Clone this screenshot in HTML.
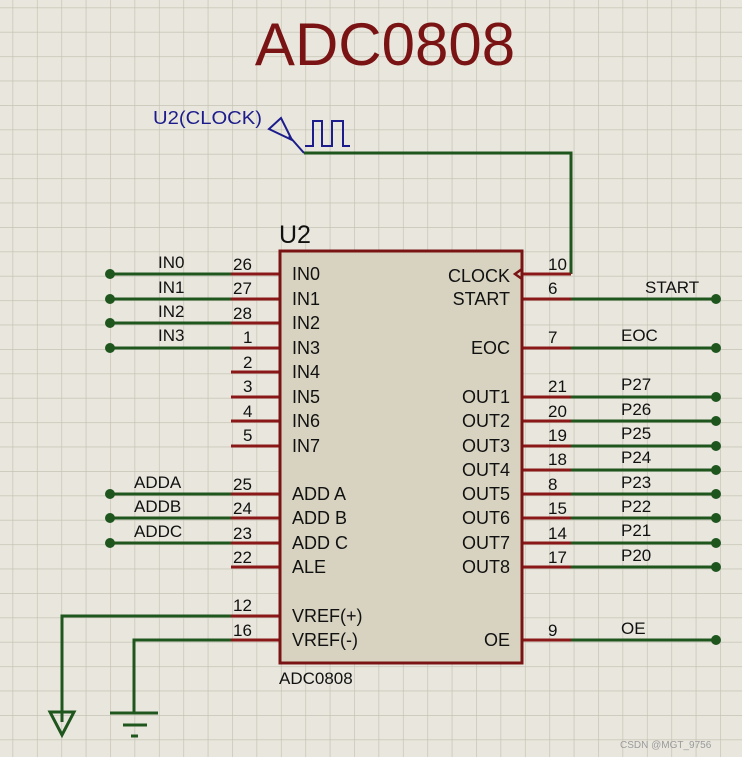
<!DOCTYPE html>
<html><head><style>body{margin:0;background:#e9e7dd}svg{display:block}</style></head><body>
<svg width="742" height="757" xmlns="http://www.w3.org/2000/svg" font-family="Liberation Sans, sans-serif">
<defs><pattern id="g" x="12.5" y="7.4" width="24.4" height="24.4" patternUnits="userSpaceOnUse"><path d="M0 0H24.4M0 0V24.4" stroke="#c5c2b5" stroke-width="1.4" fill="none"/></pattern></defs>
<rect width="742" height="757" fill="#e9e7dd"/>
<rect width="742" height="757" fill="url(#g)"/>
<text x="385" y="65" font-size="60" fill="#7a1414" text-anchor="middle">ADC0808</text>
<!-- clock -->
<text x="153" y="124" font-size="18" fill="#1c1c8c" textLength="109" lengthAdjust="spacingAndGlyphs">U2(CLOCK)</text>
<g stroke="#1c1c8c" stroke-width="2" fill="none"><path d="M269 129L281 118L292 140Z M289 136L304 153"/><path d="M305 146H313V121H322V146H332V121H343V146H350"/></g>
<g stroke="#1e561e" stroke-width="3" fill="none">
<path d="M304 153H571V274"/>
<path d="M110 274H231M110 299H231M110 323H231M110 348H231M110 494H231M110 518H231M110 543H231"/>
<path d="M231 616H62V722M231 640H134V713"/>
<path d="M571 299H716M571 348H716M571 397H716M571 421H716M571 446H716M571 470H716M571 494H716M571 518H716M571 543H716M571 567H716M571 640H716"/>
<path d="M110 713H158M123 725H147M131 736H138"/>
<path d="M50 712H74L62 735Z"/>
</g>
<g fill="#1e561e">
<circle cx="110" cy="274" r="5"/><circle cx="110" cy="299" r="5"/><circle cx="110" cy="323" r="5"/><circle cx="110" cy="348" r="5"/><circle cx="110" cy="494" r="5"/><circle cx="110" cy="518" r="5"/><circle cx="110" cy="543" r="5"/>
<circle cx="716" cy="299" r="5"/><circle cx="716" cy="348" r="5"/><circle cx="716" cy="397" r="5"/><circle cx="716" cy="421" r="5"/><circle cx="716" cy="446" r="5"/><circle cx="716" cy="470" r="5"/><circle cx="716" cy="494" r="5"/><circle cx="716" cy="518" r="5"/><circle cx="716" cy="543" r="5"/><circle cx="716" cy="567" r="5"/><circle cx="716" cy="640" r="5"/>
</g>
<!-- pins -->
<g stroke="#8a1818" stroke-width="3">
<path d="M231 274H280M231 299H280M231 323H280M231 348H280M231 372H280M231 397H280M231 421H280M231 446H280M231 494H280M231 518H280M231 543H280M231 567H280M231 616H280M231 640H280"/>
<path d="M522 274H571M522 299H571M522 348H571M522 397H571M522 421H571M522 446H571M522 470H571M522 494H571M522 518H571M522 543H571M522 567H571M522 640H571"/>
</g>
<rect x="280" y="251" width="242" height="412" fill="#d7d3c0" stroke="#7a1414" stroke-width="3"/>
<path d="M522 269L515 274L522 279" stroke="#7a1414" stroke-width="2.5" fill="none"/>
<text x="279" y="243" font-size="25" fill="#111">U2</text>
<text x="279" y="684" font-size="17" fill="#111">ADC0808</text>
<g font-size="18" fill="#111">
<text x="292" y="280">IN0</text><text x="292" y="305">IN1</text><text x="292" y="329">IN2</text><text x="292" y="354">IN3</text><text x="292" y="378">IN4</text><text x="292" y="403">IN5</text><text x="292" y="427">IN6</text><text x="292" y="452">IN7</text>
<text x="292" y="500">ADD A</text><text x="292" y="524">ADD B</text><text x="292" y="549">ADD C</text><text x="292" y="573">ALE</text><text x="292" y="622">VREF(+)</text><text x="292" y="646">VREF(-)</text>
</g>
<g font-size="18" fill="#111" text-anchor="end">
<text x="510" y="282">CLOCK</text><text x="510" y="305">START</text><text x="510" y="354">EOC</text>
<text x="510" y="403">OUT1</text><text x="510" y="427">OUT2</text><text x="510" y="452">OUT3</text><text x="510" y="476">OUT4</text><text x="510" y="500">OUT5</text><text x="510" y="524">OUT6</text><text x="510" y="549">OUT7</text><text x="510" y="573">OUT8</text><text x="510" y="646">OE</text>
</g>
<g font-size="17" fill="#111">
<text x="233" y="270">26</text><text x="233" y="294">27</text><text x="233" y="319">28</text><text x="243" y="343">1</text><text x="243" y="368">2</text><text x="243" y="392">3</text><text x="243" y="417">4</text><text x="243" y="441">5</text>
<text x="233" y="490">25</text><text x="233" y="514">24</text><text x="233" y="539">23</text><text x="233" y="563">22</text><text x="233" y="611">12</text><text x="233" y="636">16</text>
<text x="548" y="270">10</text><text x="548" y="294">6</text><text x="548" y="343">7</text><text x="548" y="392">21</text><text x="548" y="417">20</text><text x="548" y="441">19</text><text x="548" y="465">18</text><text x="548" y="490">8</text><text x="548" y="514">15</text><text x="548" y="539">14</text><text x="548" y="563">17</text><text x="548" y="636">9</text>
<text x="158" y="268">IN0</text><text x="158" y="293">IN1</text><text x="158" y="317">IN2</text><text x="158" y="341">IN3</text>
<text x="134" y="488">ADDA</text><text x="134" y="512">ADDB</text><text x="134" y="537">ADDC</text>
<text x="645" y="293">START</text><text x="621" y="341">EOC</text>
<text x="621" y="390">P27</text><text x="621" y="415">P26</text><text x="621" y="439">P25</text><text x="621" y="463">P24</text><text x="621" y="488">P23</text><text x="621" y="512">P22</text><text x="621" y="536">P21</text><text x="621" y="561">P20</text><text x="621" y="634">OE</text>
</g>
<text x="620" y="748" font-size="10" fill="#9a9a9a">CSDN @MGT_9756</text>
</svg>
</body></html>
